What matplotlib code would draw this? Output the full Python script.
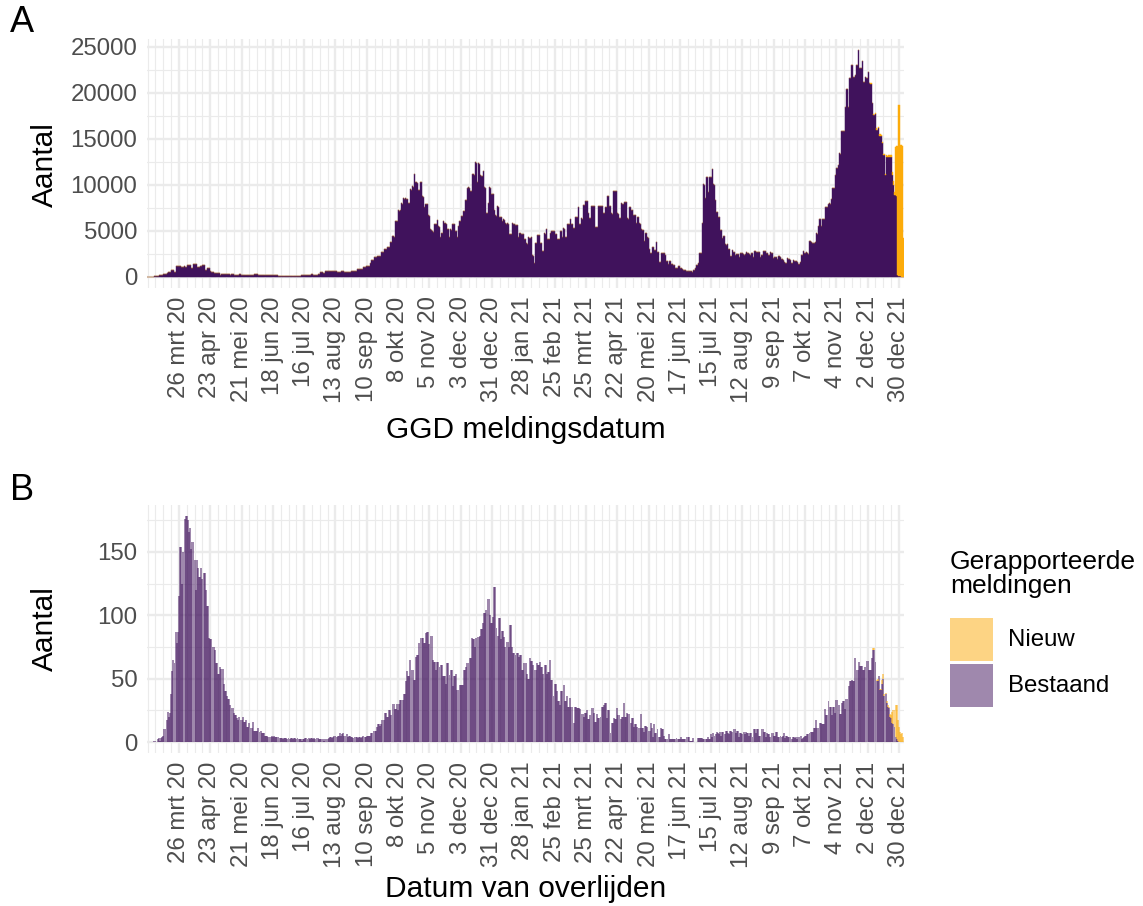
import numpy as np
import matplotlib
matplotlib.use("Agg")
import matplotlib.pyplot as plt
import matplotlib.dates as mdates
from matplotlib.patches import Rectangle

plt.rcParams['font.family'] = ['Liberation Sans', 'DejaVu Sans']

# eerste dag van de reeks
start_datum = np.datetime64('2020-02-27')

# GGD meldingen per dag (bestaand), een regel per week
meldingen_bestaand = [
    1, 2, 5, 8, 12, 18, 22,
    38, 55, 80, 110, 190, 215, 230,
    290, 300, 280, 320, 450, 510, 530,
    710, 690, 730, 560, 540, 1150, 1170,
    1160, 1120, 1010, 1020, 1000, 1170, 1030,
    1010, 1240, 1220, 1230, 900, 890, 1370,
    1390, 1380, 1360, 1020, 1010, 1150, 1170,
    1270, 1280, 1260, 730, 720, 900, 890,
    650, 510, 490, 500, 440, 430, 420,
    440, 410, 220, 290, 300, 280, 290,
    290, 250, 260, 240, 180, 290, 280,
    290, 190, 180, 170, 190, 280, 290,
    150, 140, 150, 145, 140, 150, 145,
    140, 150, 145, 140, 150, 250, 245,
    250, 150, 140, 145, 150, 140, 145,
    140, 150, 145, 140, 145, 150, 140,
    145, 150, 140, 145, 150, 100, 80,
    70, 75, 65, 70, 80, 60, 70,
    75, 70, 65, 70, 75, 70, 65,
    70, 75, 70, 65, 70, 140, 145,
    150, 145, 140, 150, 145, 140, 150,
    250, 150, 145, 140, 150, 145, 290,
    300, 540, 530, 430, 440, 650, 640,
    660, 650, 580, 590, 650, 660, 640,
    650, 580, 500, 510, 490, 580, 590,
    570, 500, 510, 490, 500, 510, 500,
    610, 620, 600, 615, 620, 610, 790,
    800, 810, 790, 800, 1010, 1020, 1000,
    1150, 1160, 1170, 1450, 1800, 1820, 1810,
    2100, 2090, 2110, 2250, 2260, 2240, 2720,
    2700, 2730, 2970, 2980, 2960, 3260, 3270,
    3800, 3810, 4420, 4410, 4280, 6090, 6100,
    7250, 7150, 7300, 7970, 7900, 8500, 8450,
    8500, 8400, 7970, 8000, 9500, 9400, 9850,
    9800, 11160, 10290, 10200, 9420, 9380, 10290,
    10250, 8770, 8700, 7610, 7900, 7850, 6700,
    6650, 5150, 5100, 4930, 4900, 5720, 5680,
    6160, 5500, 5450, 4280, 4790, 4750, 6090,
    5800, 5750, 5220, 5180, 4280, 5150, 5100,
    5720, 5680, 5000, 4950, 4350, 5500, 6090,
    6050, 6600, 6550, 7170, 8330, 8300, 9640,
    9710, 9680, 9350, 9300, 11160, 11100, 12460,
    12400, 10290, 12320, 12250, 11000, 10950, 11520,
    9710, 9650, 6960, 6900, 8040, 9710, 9650,
    9000, 8950, 7250, 6700, 6650, 7680, 7620,
    6520, 6480, 6090, 6230, 6200, 5800, 5760,
    5800, 5750, 4640, 4600, 5800, 5760, 5720,
    5620, 5580, 5600, 4280, 4710, 4680, 4640,
    4600, 4130, 4100, 3620, 3600, 4280, 4250,
    4280, 2320, 2300, 1450, 3700, 3680, 4530,
    4500, 3700, 3660, 2830, 2800, 4710, 4680,
    5150, 4130, 4100, 4780, 4960, 4920, 4960,
    4930, 4640, 4600, 4130, 4100, 4960, 4920,
    4350, 5250, 5200, 4350, 4300, 5720, 5680,
    6230, 5720, 5680, 5290, 5250, 6520, 6480,
    7540, 5720, 5680, 6340, 6300, 7790, 7750,
    8220, 8180, 6890, 6380, 6340, 7680, 7640,
    7680, 7640, 5430, 5400, 7720, 7680, 7700,
    7680, 7640, 6960, 6920, 7610, 8770, 8720,
    7680, 7640, 6890, 6850, 9310, 9280, 9300,
    6890, 6850, 6380, 6340, 7970, 7930, 7950,
    8150, 8100, 6340, 6300, 7610, 7580, 7250,
    7220, 6700, 6660, 5870, 6520, 6480, 5800,
    5760, 5150, 5100, 3840, 4780, 4740, 4280,
    4250, 2970, 2540, 2520, 3260, 2900, 2880,
    3730, 2720, 2700, 1630, 1610, 2540, 2520,
    2540, 2350, 1700, 1690, 1410, 1700, 1680,
    1410, 1270, 1260, 980, 970, 980, 1200,
    1190, 980, 800, 690, 680, 725, 650,
    640, 616, 610, 650, 540, 725, 720,
    900, 1270, 1260, 1450, 2540, 2520, 5800,
    10070, 10000, 8510, 10870, 10820, 9240, 10870,
    10820, 11670, 10040, 10000, 8330, 7060, 7020,
    6520, 5070, 5040, 4170, 4420, 4390, 3510,
    3490, 3510, 3000, 2250, 2230, 2900, 2720,
    2700, 2350, 2500, 2480, 2170, 2540, 2520,
    2540, 2430, 2410, 2430, 2640, 2620, 2430,
    2350, 2540, 2520, 2170, 2790, 2770, 2720,
    2700, 2720, 2170, 2350, 2330, 2790, 2770,
    2790, 2540, 2350, 2330, 2720, 2540, 2520,
    2070, 2170, 2150, 1920, 2280, 2260, 2170,
    1920, 1900, 1810, 1560, 1540, 1990, 1920,
    1900, 1810, 1450, 1440, 1810, 1740, 1720,
    1630, 1340, 1330, 1560, 2350, 2330, 2790,
    2540, 2640, 2620, 2500, 3880, 3860, 3800,
    3660, 3640, 3730, 4710, 4690, 5540, 6270,
    6250, 5540, 6270, 6250, 7610, 7590, 7600,
    7860, 7970, 7950, 8440, 9670, 9640, 11050,
    11850, 11800, 12140, 13400, 13350, 15830, 15800,
    15830, 18480, 20400, 20350, 18480, 21630, 21600,
    23010, 21740, 21700, 21920, 23010, 22980, 24640,
    22720, 22700, 23440, 21190, 21150, 21740, 21630,
    21600, 22210, 21010, 20980, 18840, 17570, 17540,
    17640, 15940, 15900, 16200, 15330, 15300, 14490,
    13220, 13180, 11050, 13040, 13000, 13020, 13040,
    13000, 11050, 9960, 8880, 8880, 8800, 200,
    60, 30, 10, 0, 0,
]

# nieuwe GGD meldingen, laatste 30 dagen
meldingen_nieuw_laatste = [
    100, 80, 120, 90, 150, 200, 100, 80, 150, 100,
    120, 150, 200, 100, 150, 100, 200, 150, 250, 300,
    400, 300, 5200, 5400, 14000, 18600, 14300, 14300, 14200, 4200,
]

# overleden per dag (bestaand), een regel per week
overleden_bestaand = [
    0, 0, 0, 0, 0, 0, 1,
    1, 0, 2, 3, 1, 3, 4,
    5, 10, 10, 17, 24, 20, 23,
    38, 56, 65, 62, 87, 78, 87,
    115, 154, 154, 125, 150, 176, 178,
    178, 175, 166, 169, 152, 158, 158,
    144, 120, 144, 137, 130, 130, 137,
    129, 133, 133, 120, 107, 107, 82,
    81, 81, 75, 75, 73, 62, 62,
    54, 54, 59, 58, 58, 46, 40,
    40, 36, 34, 34, 29, 27, 27,
    23, 21, 21, 19, 17, 20, 17,
    17, 20, 16, 16, 17, 12, 12,
    15, 11, 11, 16, 9, 9, 9,
    9, 11, 8, 9, 7, 7, 7,
    5, 5, 5, 4, 4, 4, 5,
    4, 5, 4, 4, 4, 4, 3,
    3, 3, 2, 3, 3, 3, 2,
    3, 2, 3, 3, 2, 3, 3,
    2, 3, 2, 2, 2, 1, 2,
    2, 3, 3, 2, 3, 2, 3,
    3, 2, 3, 2, 3, 3, 2,
    2, 2, 0, 2, 1, 2, 2,
    2, 3, 4, 4, 3, 4, 5,
    5, 4, 5, 5, 7, 5, 6,
    7, 5, 5, 6, 4, 5, 5,
    4, 4, 3, 4, 4, 4, 3,
    4, 4, 3, 4, 5, 4, 4,
    5, 5, 5, 5, 7, 7, 9,
    9, 9, 12, 14, 14, 13, 14,
    17, 17, 23, 23, 20, 20, 25,
    25, 21, 30, 30, 26, 26, 30,
    25, 30, 33, 33, 33, 38, 38,
    48, 56, 52, 52, 65, 57, 57,
    49, 49, 67, 69, 69, 78, 82,
    82, 82, 78, 78, 86, 87, 87,
    77, 84, 84, 65, 63, 63, 57,
    63, 63, 59, 61, 61, 52, 52,
    52, 46, 62, 62, 53, 57, 57,
    44, 52, 52, 54, 41, 41, 45,
    45, 45, 45, 57, 57, 59, 62,
    62, 66, 66, 82, 81, 81, 75,
    82, 83, 83, 84, 89, 89, 94,
    102, 102, 104, 113, 113, 100, 94,
    94, 99, 122, 122, 90, 84, 98,
    98, 81, 88, 88, 83, 75, 79,
    79, 75, 92, 92, 75, 70, 70,
    69, 70, 70, 67, 69, 69, 57,
    57, 62, 62, 54, 50, 50, 66,
    64, 64, 61, 57, 57, 62, 61,
    61, 63, 59, 59, 54, 61, 61,
    54, 55, 55, 65, 49, 49, 36,
    46, 46, 40, 32, 32, 29, 40,
    40, 45, 32, 32, 36, 28, 28,
    35, 28, 28, 15, 28, 28, 27,
    27, 27, 26, 22, 22, 20, 23,
    23, 25, 18, 18, 21, 27, 27,
    23, 16, 16, 22, 19, 19, 20,
    28, 28, 29, 31, 31, 19, 25,
    25, 7, 15, 15, 19, 18, 18,
    27, 21, 21, 18, 20, 20, 31,
    20, 20, 23, 22, 22, 15, 19,
    19, 12, 14, 14, 12, 11, 11,
    22, 11, 11, 8, 13, 13, 12,
    9, 9, 15, 11, 4, 14, 7,
    7, 10, 4, 4, 11, 10, 10,
    5, 2, 2, 2, 6, 2, 2,
    2, 2, 2, 2, 3, 2, 2,
    2, 4, 2, 2, 2, 2, 4,
    4, 4, 1, 1, 1, 3, 0,
    0, 0, 3, 3, 3, 3, 3,
    2, 2, 2, 2, 4, 2, 2,
    6, 4, 7, 5, 6, 8, 7,
    6, 8, 5, 8, 8, 6, 9,
    9, 7, 6, 9, 9, 8, 10,
    10, 7, 9, 9, 4, 7, 7,
    6, 8, 6, 8, 7, 7, 5,
    7, 7, 4, 10, 10, 7, 10,
    10, 5, 5, 10, 10, 8, 8,
    4, 7, 6, 6, 4, 7, 7,
    5, 5, 8, 8, 4, 4, 5,
    4, 5, 7, 3, 5, 5, 4,
    4, 4, 2, 4, 4, 3, 4,
    2, 4, 4, 5, 2, 3, 4,
    5, 5, 6, 6, 7, 8, 8,
    8, 11, 11, 17, 11, 11, 15,
    15, 14, 14, 14, 26, 21, 21,
    32, 28, 28, 21, 28, 28, 23,
    33, 33, 29, 22, 22, 31, 32,
    32, 26, 34, 34, 44, 48, 48,
    49, 48, 48, 66, 57, 57, 63,
    60, 60, 60, 57, 57, 59, 64,
    64, 57, 57, 57, 66, 73, 73,
    63, 48, 48, 52, 41, 41, 46,
    50, 36, 38, 31, 28, 27, 20,
    19, 15, 14, 12, 4, 2, 1,
    0, 0, 0, 0, 0,
]

# nieuwe meldingen van overlijden, laatste 30 dagen
overleden_nieuw_laatste = [
    0, 0, 1, 1, 0, 1, 2, 0, 1, 1,
    3, 4, 2, 1, 1, 1, 1, 2, 2, 9,
    11, 13, 25, 27, 16, 12, 8, 6, 7, 4,
]

maanden = ['jan', 'feb', 'mrt', 'apr', 'mei', 'jun',
           'jul', 'aug', 'sep', 'okt', 'nov', 'dec']

paars = '#40125C'
geel = '#FCAB0A'
grijs_grid = '#EBEBEB'
grijs_tekst = '#4D4D4D'

n = len(meldingen_bestaand)
datums = start_datum + np.arange(n)
x = mdates.date2num(datums.astype('datetime64[D]').astype(object))


def aanvullen(staart):
    return np.concatenate([np.zeros(n - len(staart)), np.array(staart, float)])


# hoofd- en hulplijnen op de tijdas
hoofd_datums = np.arange(np.datetime64('2020-03-26'), datums[-1] + 1, 28)
hulp_datums = np.arange(start_datum, datums[-1] + 1, 7)
hoofd_x = mdates.date2num(hoofd_datums.astype(object))
hulp_x = mdates.date2num(hulp_datums.astype(object))
labels = []
for d in hoofd_datums.astype(object):
    labels.append(f"{d.day} {maanden[d.month - 1]} {d.year % 100:02d}")


def opmaak(ax, stap, ymax_data):
    ax.set_xlim(x[0] - 0.5, x[-1] + 0.5)
    ax.set_ylim(-0.05 * ymax_data, 1.05 * ymax_data)
    ax.set_xticks(hoofd_x)
    ax.set_xticks(hulp_x, minor=True)
    ax.set_xticklabels(labels, rotation=90, ha='center', va='top')
    top = 1.05 * ymax_data
    ax.set_yticks(np.arange(0, top, stap))
    ax.set_yticks(np.arange(stap / 2, top, stap), minor=True)
    ax.set_yticklabels([f"{int(v)}" for v in np.arange(0, top, stap)])
    ax.grid(which='major', color=grijs_grid, linewidth=1.7)
    ax.grid(which='minor', color=grijs_grid, linewidth=0.85)
    ax.set_axisbelow(True)
    for s in ax.spines.values():
        s.set_visible(False)
    ax.tick_params(which='both', length=0)
    ax.tick_params(axis='x', pad=6, labelsize=17.3, labelcolor=grijs_tekst)
    ax.tick_params(axis='y', pad=7, labelsize=17.3, labelcolor=grijs_tekst)


fig = plt.figure(figsize=(11.43, 9.06), dpi=100)

breedte = 756.9 / 1143
links = 147.1 / 1143

# A: GGD meldingen
ax_a = fig.add_axes([links, 1 - 288 / 906, breedte, 249.3 / 906])
mb = np.array(meldingen_bestaand, float)
mn = aanvullen(meldingen_nieuw_laatste)
ax_a.bar(x, mb, width=1.0, color=paars, edgecolor=paars, linewidth=0.3)
ax_a.bar(x, mn, bottom=mb, width=1.0, color=geel, edgecolor=geel, linewidth=0.3)
opmaak(ax_a, 5000, (mb + mn).max())

# B: overlijdens
ax_b = fig.add_axes([links, 1 - 753.3 / 906, breedte, 248.1 / 906])
ob = np.array(overleden_bestaand, float)
on = aanvullen(overleden_nieuw_laatste)
ax_b.bar(x, ob, width=1.7, color=paars, alpha=0.5, linewidth=0)
ax_b.bar(x, on, bottom=ob, width=1.7, color=geel, alpha=0.5, linewidth=0)
opmaak(ax_b, 50, (ob + on).max())

# titels en labels
fig.text(10 / 1143, 1 - 23 / 906, 'A', fontsize=26, va='center', ha='left')
fig.text(10 / 1143, 1 - 490 / 906, 'B', fontsize=26, va='center', ha='left')
fig.text(45 / 1143, 1 - 165 / 906, 'Aantal', fontsize=21.5, rotation=90,
         va='center', ha='center')
fig.text(45 / 1143, 1 - 629 / 906, 'Aantal', fontsize=21.5, rotation=90,
         va='center', ha='center')
fig.text(526 / 1143, 1 - 430 / 906, 'GGD meldingsdatum', fontsize=21.5,
         va='center', ha='center')
fig.text(526 / 1143, 1 - 889 / 906, 'Datum van overlijden', fontsize=21.5,
         va='center', ha='center')

# legenda
fig.text(950 / 1143, 1 - 550 / 906, 'Gerapporteerde\nmeldingen', fontsize=19,
         va='top', ha='left', linespacing=1.0)
for kleur, naam, y_top in [(geel, 'Nieuw', 618), (paars, 'Bestaand', 664)]:
    fig.add_artist(Rectangle((950 / 1143, 1 - (y_top + 43) / 906), 43 / 1143, 43 / 906,
                             transform=fig.transFigure, facecolor=kleur,
                             alpha=0.5, linewidth=0))
    fig.text(1008 / 1143, 1 - (y_top + 21.5) / 906, naam, fontsize=17.3,
             va='center', ha='left')

fig.savefig('out.png', dpi=100, facecolor='white')
